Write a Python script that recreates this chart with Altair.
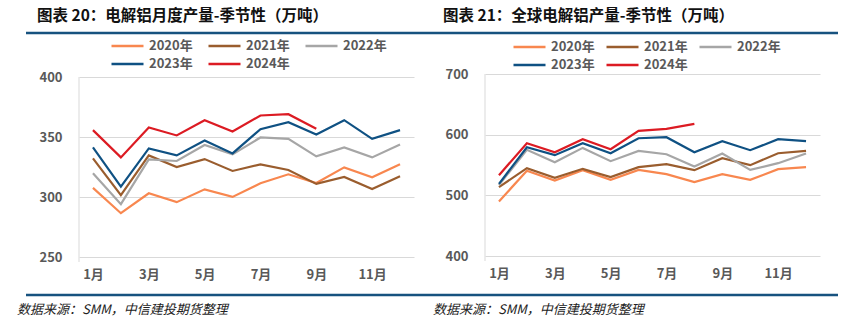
import altair as alt
import pandas as pd

FONT = "Noto Sans CJK SC"

months = [f"{i}月" for i in range(1, 13)]
month_ticks = ["1月", "3月", "5月", "7月", "9月", "11月"]
years = ["2020年", "2021年", "2022年", "2023年", "2024年"]
colors = ["#F8874F", "#9A5D2E", "#A6A6A6", "#0F5183", "#DC1B23"]

# 图表20：电解铝月度产量（万吨）
cn_2020 = [307.6, 286.5, 303.1, 295.7, 306.4, 300.1, 311.4, 318.9, 311.7, 324.7, 316.4, 327.2]
cn_2021 = [332.2, 301.5, 334.7, 325.0, 331.6, 321.7, 327.2, 322.5, 310.9, 316.7, 306.7, 317.2]
cn_2022 = [319.7, 294.0, 331.4, 330.0, 343.3, 335.5, 349.6, 348.5, 333.9, 341.3, 333.0, 343.8]
cn_2023 = [341.3, 308.7, 340.5, 334.7, 347.1, 336.3, 356.5, 362.4, 352.1, 364.0, 348.5, 355.7]
cn_2024 = [355.7, 333.0, 357.9, 351.3, 364.0, 354.6, 367.9, 369.0, 356.8]

# 图表21：全球电解铝产量（万吨）
gl_2020 = [490.0, 540.4, 524.5, 541.5, 525.6, 542.0, 534.9, 521.7, 534.9, 525.6, 543.1, 546.4]
gl_2021 = [513.5, 544.8, 528.9, 543.7, 530.0, 546.4, 551.3, 541.5, 561.2, 549.7, 569.4, 573.3]
gl_2022 = [517.0, 575.0, 554.6, 578.2, 556.3, 573.3, 567.8, 547.5, 568.9, 542.0, 553.0, 568.9]
gl_2023 = [519.0, 579.3, 566.2, 585.9, 569.4, 594.1, 595.8, 571.1, 589.2, 574.4, 592.5, 589.2]
gl_2024 = [533.2, 585.9, 571.1, 592.5, 576.0, 606.2, 609.5, 617.7]


def to_frame(series):
    rows = []
    for y, vals in zip(years, series):
        for m, v in zip(months, vals):
            rows.append({"month": m, "year": y, "value": v})
    return pd.DataFrame(rows)


df_cn = to_frame([cn_2020, cn_2021, cn_2022, cn_2023, cn_2024])
df_gl = to_frame([gl_2020, gl_2021, gl_2022, gl_2023, gl_2024])

one = alt.Data(values=[{"k": 1}])


def hrule(x, x2, y, color, sw):
    return alt.Chart(one).mark_rule(color=color, strokeWidth=sw).encode(
        x=alt.value(x), x2=alt.value(x2), y=alt.value(y)
    )


def vrule(x, y, y2, color, sw):
    return alt.Chart(one).mark_rule(color=color, strokeWidth=sw).encode(
        x=alt.value(x), y=alt.value(y), y2=alt.value(y2)
    )


def label(s, x, y, size, weight, color, style="normal"):
    return alt.Chart(one).mark_text(
        text=s, align="left", baseline="middle", font=FONT, fontSize=size,
        fontWeight=weight, color=color, fontStyle=style,
    ).encode(x=alt.value(x), y=alt.value(y))


def panel(df, ydomain, yvals, height, top, lx, ly, colpad, rowpad, title, src_x, extra):
    lines = alt.Chart(df).mark_line(strokeWidth=2.2).encode(
        x=alt.X(
            "month:N", sort=months,
            scale=alt.Scale(domain=months, padding=0.5),
            axis=alt.Axis(
                values=month_ticks, title=None, labelAngle=0, domain=False, ticks=False,
                grid=False, labelFont=FONT, labelFontSize=13, labelFontWeight="bold",
                labelColor="#595959", labelPadding=11,
            ),
        ),
        y=alt.Y(
            "value:Q",
            scale=alt.Scale(domain=ydomain, range=[height, top], nice=False, zero=False),
            axis=alt.Axis(
                values=yvals, title=None, domain=False, ticks=False, grid=True,
                gridColor="#D9D9D9", gridWidth=1, labelFont=FONT, labelFontSize=13,
                labelFontWeight="bold", labelColor="#595959", labelPadding=17,
            ),
        ),
        color=alt.Color(
            "year:N",
            scale=alt.Scale(domain=years, range=colors),
            legend=alt.Legend(
                orient="none", legendX=lx, legendY=ly, direction="horizontal", columns=3,
                title=None, symbolType="stroke", symbolSize=1024, symbolStrokeWidth=2.5,
                labelFont=FONT, labelFontSize=13, labelFontWeight="bold",
                labelColor="#595959", labelOffset=4, columnPadding=colpad, rowPadding=rowpad,
                clipHeight=16, padding=0,
            ),
        ),
    )
    layers = [
        vrule(0, top, height + 5, "#D9D9D9", 1),
        lines,
        label(title, -42, -58, 15.5, "bold", "#111111"),
        label("数据来源：SMM，中信建投期货整理", src_x, 236, 13, "normal", "#222222", "italic"),
    ] + extra
    return alt.layer(*layers).properties(width=335, height=height)


decor_left = [
    hrule(-53, 759, -41, "#17527F", 2.5),
    hrule(-53, 759, 221, "#17527F", 2.5),
    # invisible corner marks that pin the canvas to 851x335
    hrule(-79, -75, -74, "white", 0),
    hrule(768, 772, 261, "white", 0),
]

left = panel(df_cn, [250, 400], [250, 300, 350, 400], 183, 3, 31, -36, 14, 2,
             "图表 20：电解铝月度产量-季节性（万吨）", -62, decor_left)
right = panel(df_gl, [400, 700], [400, 500, 600, 700], 182, 0, 27, -35, 10, 2,
              "图表 21：全球电解铝产量-季节性（万吨）", -52, [])

chart = alt.hconcat(left, right, spacing=71, bounds="flush").resolve_scale(
    color="independent", x="independent", y="independent"
).resolve_legend(color="independent").properties(padding=0).configure_view(stroke=None)

chart.save("out.html", embed_options={"renderer": "svg", "actions": False})
